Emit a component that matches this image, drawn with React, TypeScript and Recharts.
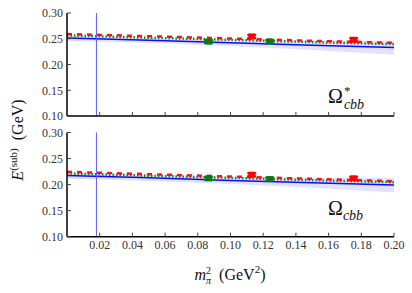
import React from 'react';
import {
  ComposedChart,
  Area,
  Line,
  Scatter,
  ErrorBar,
  XAxis,
  YAxis,
  ReferenceLine,
} from 'recharts';

const fitX = [0, 0.05, 0.1, 0.15, 0.2];
const xTicks = [0.02, 0.04, 0.06, 0.08, 0.1, 0.12, 0.14, 0.16, 0.18, 0.2];
const yTicks = [0.1, 0.15, 0.2, 0.25, 0.3];
const physPionMass2 = 0.018;

// Omega*_cbb panel
const starFit = [0.2515, 0.247, 0.242, 0.2375, 0.233];
const starBandLow = [0.245, 0.242, 0.236, 0.228, 0.219];
const starBandHigh = [0.257, 0.252, 0.249, 0.247, 0.246];
const starRedFit = [0.259, 0.255, 0.2505, 0.246, 0.242];
const starGreenFit = [0.2565, 0.252, 0.248, 0.2435, 0.2395];
const starGreenPts = [
  { x: 0.0866, y: 0.2445, err: 0.003 },
  { x: 0.124, y: 0.2445, err: 0.003 },
];
const starRedPts = [
  { x: 0.113, y: 0.2545, err: 0.003 },
  { x: 0.1753, y: 0.248, err: 0.003 },
];

// Omega_cbb panel
const omFit = [0.2175, 0.213, 0.208, 0.2035, 0.199];
const omBandLow = [0.211, 0.207, 0.201, 0.194, 0.185];
const omBandHigh = [0.224, 0.219, 0.215, 0.213, 0.212];
const omRedFit = [0.2245, 0.22, 0.2155, 0.211, 0.2065];
const omGreenFit = [0.2215, 0.217, 0.213, 0.2085, 0.2045];
const omGreenPts = [
  { x: 0.0866, y: 0.212, err: 0.003 },
  { x: 0.124, y: 0.2105, err: 0.003 },
];
const omRedPts = [
  { x: 0.113, y: 0.219, err: 0.003 },
  { x: 0.1753, y: 0.212, err: 0.003 },
];

const SERIF = '"Liberation Serif", "DejaVu Serif", serif';
const tickStyle = { fill: '#333', fontSize: 12, fontFamily: SERIF };
const blank = () => '';

const buildRows = (fit: number[], lo: number[], hi: number[], red: number[], green: number[]) =>
  fitX.map((x, i) => ({ x, fit: fit[i], band: [lo[i], hi[i]], red: red[i], green: green[i] }));

const square = (color: string) => (props: any) => (
  <rect x={props.cx - 3.5} y={props.cy - 3} width={7} height={6} fill={color} />
);

interface PanelProps {
  rows: any[];
  greenPts: any[];
  redPts: any[];
  top: number;
  height: number;
  marginTop: number;
  xAxisHeight: number;
  showXLabels: boolean;
}

function Panel({ rows, greenPts, redPts, top, height, marginTop, xAxisHeight, showXLabels }: PanelProps) {
  return (
    <div style={{ position: 'absolute', left: 0, top, fontFamily: SERIF }}>
      <ComposedChart
        width={412}
        height={height}
        data={rows}
        margin={{ top: marginTop, right: 18, bottom: 0, left: 0 }}
      >
        <XAxis
          dataKey="x"
          type="number"
          domain={[0, 0.2]}
          ticks={xTicks}
          interval={0}
          height={xAxisHeight}
          tickSize={-4}
          tickMargin={8}
          tick={tickStyle}
          tickFormatter={showXLabels ? (v: number) => v.toFixed(2) : blank}
          axisLine={{ stroke: '#000', strokeWidth: 1.5 }}
          tickLine={{ stroke: '#444' }}
          allowDataOverflow
        />
        <XAxis
          xAxisId="top"
          orientation="top"
          dataKey="x"
          type="number"
          domain={[0, 0.2]}
          ticks={xTicks}
          interval={0}
          height={0}
          tickSize={-4}
          tickFormatter={blank}
          axisLine={{ stroke: '#000', strokeWidth: 1.5 }}
          tickLine={{ stroke: '#444' }}
          allowDataOverflow
        />
        <YAxis
          type="number"
          domain={[0.1, 0.3]}
          ticks={yTicks}
          interval={0}
          width={67}
          tickSize={-4}
          tickMargin={8}
          tick={tickStyle}
          tickFormatter={(v: number) => v.toFixed(2)}
          axisLine={{ stroke: '#000', strokeWidth: 1.5 }}
          tickLine={{ stroke: '#444' }}
          allowDataOverflow
        />
        <YAxis
          yAxisId="right"
          orientation="right"
          type="number"
          domain={[0.1, 0.3]}
          ticks={yTicks}
          interval={0}
          width={0}
          tickSize={-4}
          tickFormatter={blank}
          axisLine={{ stroke: '#000', strokeWidth: 1.5 }}
          tickLine={{ stroke: '#444' }}
          allowDataOverflow
        />
        <Area
          dataKey="band"
          type="linear"
          stroke="none"
          fill="#7b7bff"
          fillOpacity={0.22}
          isAnimationActive={false}
        />
        <Line dataKey="fit" type="linear" stroke="#0a0aff" strokeWidth={1.5} dot={false} activeDot={false} isAnimationActive={false} />
        <Line dataKey="green" type="linear" stroke="#168a16" strokeWidth={2.5} strokeDasharray="1.5 2" dot={false} activeDot={false} isAnimationActive={false} />
        <Line dataKey="red" type="linear" stroke="#ff1010" strokeWidth={2.5} strokeDasharray="5 5" dot={false} activeDot={false} isAnimationActive={false} />
        <ReferenceLine x={physPionMass2} stroke="#5a5aff" strokeWidth={1} />
        <Scatter data={greenPts} dataKey="y" fill="#0d7a0d" shape={square('#0d7a0d')} isAnimationActive={false}>
          <ErrorBar dataKey="err" direction="y" width={4.5} stroke="#0d7a0d" strokeWidth={2} />
        </Scatter>
        <Scatter data={redPts} dataKey="y" fill="#ff0000" shape={square('#ff0000')} isAnimationActive={false}>
          <ErrorBar dataKey="err" direction="y" width={4.5} stroke="#ff0000" strokeWidth={2} />
        </Scatter>
      </ComposedChart>
    </div>
  );
}

const textBase: React.CSSProperties = {
  position: 'absolute',
  fontFamily: SERIF,
  color: '#111',
  whiteSpace: 'nowrap',
  lineHeight: 1,
};

const stack: React.CSSProperties = {
  display: 'inline-flex',
  flexDirection: 'column',
  verticalAlign: 'middle',
  lineHeight: 1,
};

export default function App() {
  const starRows = buildRows(starFit, starBandLow, starBandHigh, starRedFit, starGreenFit);
  const omRows = buildRows(omFit, omBandLow, omBandHigh, omRedFit, omGreenFit);

  return (
    <div style={{ position: 'fixed', left: 0, top: 0, width: 412, height: 293, background: '#fff', overflow: 'hidden' }}>
      <Panel rows={starRows} greenPts={starGreenPts} redPts={starRedPts} top={0} height={125} marginTop={13} xAxisHeight={9} showXLabels={false} />
      <Panel rows={omRows} greenPts={omGreenPts} redPts={omRedPts} top={119} height={174} marginTop={13.5} xAxisHeight={56.3} showXLabels />

      <div style={{ ...textBase, left: 328, top: 84, fontSize: 20 }}>
        Ω
        <span style={{ ...stack, marginLeft: 1 }}>
          <span style={{ fontSize: 13, lineHeight: '13px' }}>*</span>
          <span style={{ fontSize: 14, fontStyle: 'italic', lineHeight: '15px' }}>cbb</span>
        </span>
      </div>
      <div style={{ ...textBase, left: 328, top: 198, fontSize: 20 }}>
        Ω<sub style={{ fontSize: 14, fontStyle: 'italic', lineHeight: 0 }}>cbb</sub>
      </div>

      <div style={{ ...textBase, left: 230, top: 266, fontSize: 16, transform: 'translateX(-50%)' }}>
        <i>m</i>
        <span style={{ ...stack, fontSize: 10 }}>
          <span>2</span>
          <span style={{ fontStyle: 'italic' }}>π</span>
        </span>
        &nbsp;&nbsp;(GeV<sup style={{ fontSize: 11, lineHeight: 0 }}>2</sup>)
      </div>

      <div
        style={{
          ...textBase,
          left: 18,
          top: 140,
          fontSize: 16,
          transform: 'translate(-50%, -50%) rotate(-90deg)',
        }}
      >
        <i>E</i>
        <sup style={{ fontSize: 11, lineHeight: 0 }}>(sub)</sup>
        &nbsp;&nbsp;(GeV)
      </div>
    </div>
  );
}
